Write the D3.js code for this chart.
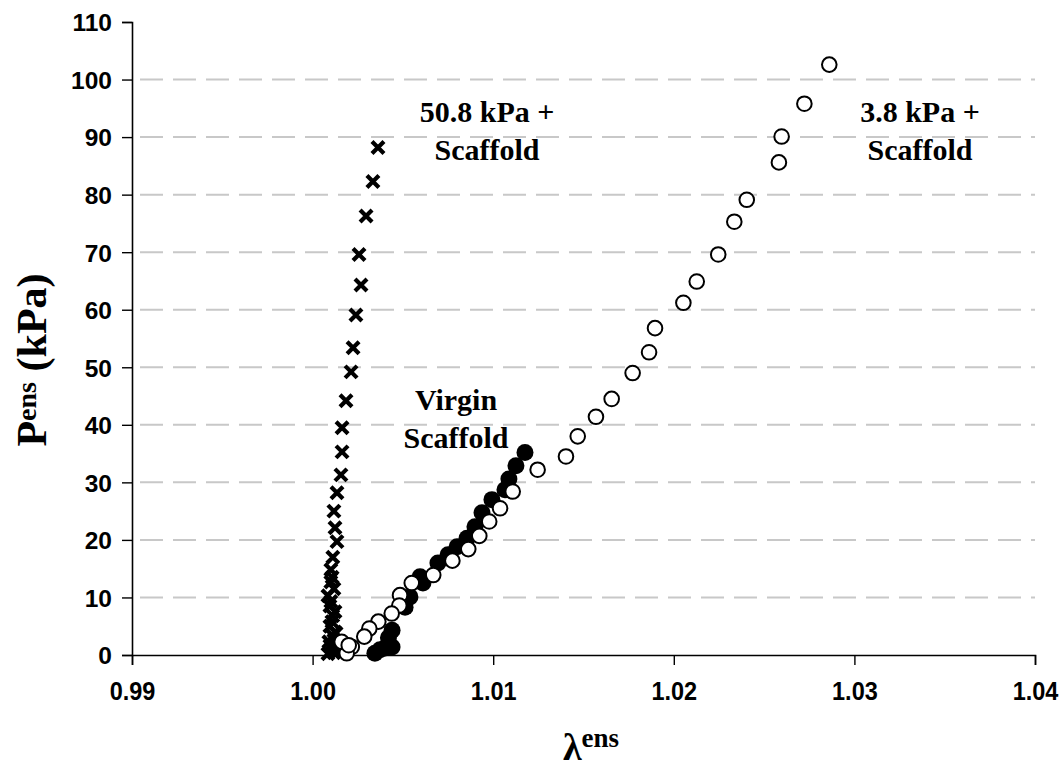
<!DOCTYPE html>
<html>
<head>
<meta charset="utf-8">
<script src="https://cdn.jsdelivr.net/npm/d3@7/dist/d3.min.js"></script>
<style>
	body { margin: 0; background: #fff; }
	svg { display: block; }
</style>
</head>
<body>
<div id="viz"></div>
<script>
"use strict";

// 50.8 kPa + Scaffold (x markers)
var stiffLambda = [1.00362, 1.00334, 1.00296, 1.00257, 1.00268, 1.00240, 1.00224, 1.00213, 1.00185, 1.00163,
	1.00163, 1.00157, 1.00135, 1.00118, 1.00124, 1.00135, 1.00112, 1.00101, 1.00101, 1.00085,
	1.00096, 1.00112, 1.00096, 1.00112, 1.00090, 1.00112, 1.00085, 1.00124, 1.00146, 1.00140,
	1.00108, 1.00118, 1.00101, 1.00124, 1.00107, 1.00130, 1.00118, 1.00096, 1.00135, 1.00118];
var stiffP = [88.2, 82.3, 76.3, 69.6, 64.3, 59.1, 53.4, 49.2, 44.2, 39.5,
	35.3, 31.3, 28.2, 25.0, 22.1, 19.7, 17.0, 14.8, 12.7, 10.3,
	8.5, 6.8, 5.0, 3.3, 2.3, 1.2, 0.2, 4.0, 2.0, 0.6,
	13.5, 11.5, 9.3, 7.5, 5.8, 3.8, 2.6, 1.6, 1.0, 0.4];

// Virgin Scaffold (filled circles)
var virginLambda = [1.01176, 1.01126, 1.01087, 1.01065, 1.00993, 1.00938, 1.00899, 1.00855, 1.00800, 1.00750,
	1.00694, 1.00611, 1.00595, 1.00539, 1.00512, 1.00440, 1.00440, 1.00401, 1.00373, 1.00345, 1.00420];
var virginP = [35.2, 32.9, 30.6, 28.7, 27.0, 24.7, 22.3, 20.3, 18.8, 17.4,
	16.0, 12.5, 13.6, 10.1, 8.3, 4.3, 1.4, 1.2, 0.9, 0.3, 3.0];

// 3.8 kPa + Scaffold (open circles)
var softLambda = [1.02861, 1.02723, 1.02597, 1.02582, 1.02404, 1.02335, 1.02246, 1.02127, 1.02053, 1.01896,
	1.01863, 1.01772, 1.01656, 1.01569, 1.01468, 1.01403, 1.01246, 1.01108, 1.01038, 1.00978,
	1.00923, 1.00862, 1.00774, 1.00668, 1.00549, 1.00484, 1.00480, 1.00438, 1.00364, 1.00314,
	1.00286, 1.00217, 1.00189, 1.00161, 1.00200];
var softP = [102.6, 95.8, 90.1, 85.6, 79.1, 75.3, 69.6, 64.9, 61.2, 56.8,
	52.6, 49.0, 44.5, 41.4, 38.0, 34.5, 32.2, 28.4, 25.5, 23.2,
	20.7, 18.4, 16.4, 13.9, 12.5, 10.4, 8.6, 7.2, 5.8, 4.6,
	3.2, 1.4, 0.3, 2.3, 1.7];

var xTicks = [0.99, 1.00, 1.01, 1.02, 1.03, 1.04];
var yTicks = [0, 10, 20, 30, 40, 50, 60, 70, 80, 90, 100, 110];

var labels = [
	{ lines: ["50.8 kPa +", "Scaffold"], x: 1.00966, y: 92.6 },
	{ lines: ["3.8 kPa +", "Scaffold"], x: 1.03363, y: 92.6 },
	{ lines: ["Virgin", "Scaffold"], x: 1.00794, y: 42.6 }
];

var width = 1063,
	height = 769,
	margin = { left: 132, right: 28, top: 22, bottom: 114 };

var x = d3.scaleLinear().domain([0.99, 1.04]).range([margin.left, width - margin.right]);
var y = d3.scaleLinear().domain([0, 110]).range([height - margin.bottom, margin.top]);

var svg = d3.select("#viz")
	.append("svg")
	.attr("width", width)
	.attr("height", height);

// dashed gridlines
svg.append("g")
	.selectAll("line")
	.data(yTicks.filter(function(d) { return d > 0 && d < 110 }))
	.enter()
	.append("line")
	.attr("x1", x(0.99) + 8)
	.attr("x2", x(1.04))
	.attr("y1", function(d) { return y(d) })
	.attr("y2", function(d) { return y(d) })
	.attr("stroke", "#c8c8c8")
	.attr("stroke-width", 2)
	.attr("stroke-dasharray", "23,10");

var xAxis = svg.append("g")
	.attr("transform", "translate(0," + y(0) + ")")
	.call(d3.axisBottom(x).tickValues(xTicks).tickSize(10).tickFormat(d3.format(".2f")));

var yAxis = svg.append("g")
	.attr("transform", "translate(" + x(0.99) + ",0)")
	.call(d3.axisLeft(y).tickValues(yTicks).tickSize(10));

[xAxis, yAxis].forEach(function(ax) {
	ax.attr("font-size", null).attr("font-family", null);
	ax.select(".domain").attr("stroke", "#000").attr("stroke-width", 1.6);
	ax.selectAll(".tick line").attr("stroke", "#000").attr("stroke-width", 1.4);
	ax.selectAll(".tick text")
		.attr("fill", "#000")
		.attr("font-family", "'Liberation Sans', Arial, sans-serif")
		.attr("font-weight", "bold");
});
// x labels in the original are drawn a little taller than wide
xAxis.selectAll(".tick text")
	.attr("font-size", 23.5)
	.attr("transform", "scale(1,1.1)")
	.attr("y", 45 / 1.1)
	.attr("dy", 0);
yAxis.selectAll(".tick text")
	.attr("font-size", 24.5)
	.attr("x", -20)
	.attr("dy", "0.36em");

// markers
var stiff = d3.range(stiffLambda.length).map(function(i) { return [stiffLambda[i], stiffP[i]] });
var virgin = d3.range(virginLambda.length).map(function(i) { return [virginLambda[i], virginP[i]] });
var soft = d3.range(softLambda.length).map(function(i) { return [softLambda[i], softP[i]] });

svg.append("g")
	.selectAll("path")
	.data(stiff)
	.enter()
	.append("path")
	.attr("transform", function(d) { return "translate(" + x(d[0]) + "," + y(d[1]) + ")" })
	.attr("d", "M-6,-6L6,6M-6,6L6,-6")
	.attr("stroke", "#000")
	.attr("stroke-width", 4.2)
	.attr("fill", "none");

svg.append("g")
	.selectAll("circle")
	.data(virgin)
	.enter()
	.append("circle")
	.attr("cx", function(d) { return x(d[0]) })
	.attr("cy", function(d) { return y(d[1]) })
	.attr("r", 8.5)
	.attr("fill", "#000");

svg.append("g")
	.selectAll("circle")
	.data(soft)
	.enter()
	.append("circle")
	.attr("cx", function(d) { return x(d[0]) })
	.attr("cy", function(d) { return y(d[1]) })
	.attr("r", 7.3)
	.attr("fill", "#fff")
	.attr("stroke", "#000")
	.attr("stroke-width", 2);

// series labels
labels.forEach(function(l) {
	var t = svg.append("text")
		.attr("text-anchor", "middle")
		.attr("font-family", "'Liberation Serif', 'Times New Roman', serif")
		.attr("font-weight", "bold")
		.attr("font-size", "30px")
		.attr("fill", "#000");
	l.lines.forEach(function(s, i) {
		t.append("tspan")
			.attr("x", x(l.x))
			.attr("y", y(l.y) + i * 38)
			.text(s);
	});
});

// axis titles
var xTitle = svg.append("text")
	.attr("x", 591)
	.attr("y", 760)
	.attr("text-anchor", "middle")
	.attr("font-family", "'Liberation Serif', 'Times New Roman', serif")
	.attr("font-weight", "bold")
	.attr("fill", "#000");
xTitle.append("tspan").attr("font-size", "38px").text("λ");
xTitle.append("tspan").attr("font-size", "27px").attr("dy", -13).text("ens");

var yTitle = svg.append("text")
	.attr("transform", "translate(46,360) rotate(-90)")
	.attr("text-anchor", "middle")
	.attr("font-family", "'Liberation Serif', 'Times New Roman', serif")
	.attr("font-weight", "bold")
	.attr("fill", "#000");
yTitle.append("tspan").attr("font-size", "42px").text("P");
yTitle.append("tspan").attr("font-size", "28px").attr("dy", -10).text("ens");
yTitle.append("tspan").attr("font-size", "42px").attr("dy", 10).text(" (kPa)");
</script>
</body>
</html>
